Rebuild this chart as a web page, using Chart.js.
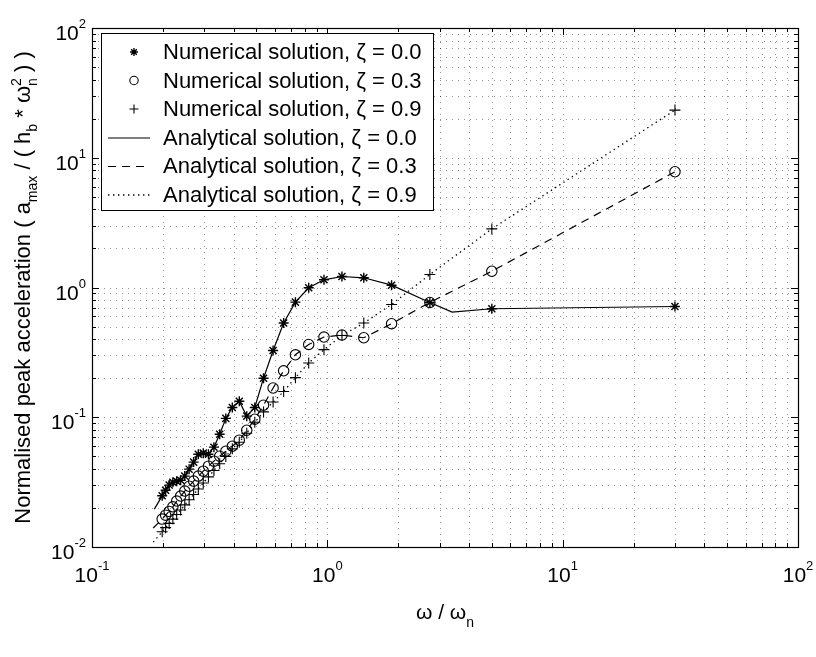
<!DOCTYPE html>
<html><head><meta charset="utf-8">
<script src="https://cdn.jsdelivr.net/npm/chart.js@4/dist/chart.umd.min.js"></script>
<style>html,body{margin:0;padding:0;background:#fff;}#wrap{width:816px;height:657px;position:relative;}</style>
</head><body><div id="wrap"><canvas id="c" width="816" height="657"></canvas></div>
<script>
// ---- data ----
const omega = [0.1987, 0.2055, 0.2128, 0.2206, 0.2290, 0.2381, 0.2479, 0.2586, 0.2703, 0.2830, 0.2970, 0.3125, 0.3297, 0.3488, 0.3704, 0.3947, 0.4225, 0.4545, 0.4918, 0.5357, 0.5882, 0.6522, 0.7317, 0.8333, 0.9677, 1.1538, 1.4286, 1.875, 2.727, 5, 30];
const numZeta00 = [0.0248, 0.0274, 0.0300, 0.0316, 0.0321, 0.0327, 0.0352, 0.0398, 0.0451, 0.0519, 0.0529, 0.0519, 0.0588, 0.074, 0.098, 0.119, 0.133, 0.102, 0.119, 0.200, 0.327, 0.532, 0.771, 0.995, 1.146, 1.216, 1.188, 1.042, 0.767, 0.686, 0.714];
const numZeta03 = [0.0164, 0.0176, 0.0188, 0.0204, 0.0226, 0.0247, 0.0270, 0.0294, 0.0322, 0.0352, 0.0384, 0.0420, 0.0459, 0.0501, 0.0547, 0.0598, 0.0666, 0.0794, 0.0966, 0.124, 0.168, 0.228, 0.303, 0.364, 0.415, 0.430, 0.410, 0.526, 0.767, 1.334, 7.8];
const numZeta09 = [0.0131, 0.0141, 0.0152, 0.0164, 0.0178, 0.0193, 0.0211, 0.0231, 0.0254, 0.0280, 0.0311, 0.0347, 0.0389, 0.0438, 0.0499, 0.0571, 0.0642, 0.0753, 0.0915, 0.110, 0.131, 0.158, 0.202, 0.262, 0.332, 0.427, 0.532, 0.740, 1.259, 2.83, 23.3];

const anaOmega00 = [0.184, 0.1987, 0.2055, 0.2128, 0.2206, 0.2290, 0.2381, 0.2479, 0.2586, 0.2703, 0.2830, 0.2970, 0.3125, 0.3297, 0.3488, 0.3704, 0.3947, 0.4225, 0.4545, 0.4918, 0.5357, 0.5882, 0.6522, 0.7317, 0.8333, 0.9677, 1.1538, 1.4286, 1.875, 2.727, 3.39, 5, 30];
const anaZeta00 = [0.0196, 0.0248, 0.0274, 0.0300, 0.0316, 0.0321, 0.0327, 0.0352, 0.0398, 0.0451, 0.0519, 0.0529, 0.0519, 0.0588, 0.074, 0.098, 0.119, 0.133, 0.102, 0.119, 0.200, 0.327, 0.532, 0.771, 0.995, 1.146, 1.216, 1.188, 1.042, 0.767, 0.646, 0.686, 0.714];
const anaOmega = [0.182, 0.1987, 0.2055, 0.2128, 0.2206, 0.2290, 0.2381, 0.2479, 0.2586, 0.2703, 0.2830, 0.2970, 0.3125, 0.3297, 0.3488, 0.3704, 0.3947, 0.4225, 0.4545, 0.4918, 0.5357, 0.5882, 0.6522, 0.7317, 0.8333, 0.9677, 1.1538, 1.4286, 1.875, 2.727, 5, 30];
const anaZeta03 = [0.0140, 0.0164, 0.0176, 0.0188, 0.0204, 0.0226, 0.0247, 0.0270, 0.0294, 0.0322, 0.0352, 0.0384, 0.0420, 0.0459, 0.0501, 0.0547, 0.0598, 0.0666, 0.0794, 0.0966, 0.124, 0.168, 0.228, 0.303, 0.364, 0.415, 0.430, 0.410, 0.526, 0.767, 1.334, 7.8];
const anaZeta09 = [0.0109, 0.0131, 0.0141, 0.0152, 0.0164, 0.0178, 0.0193, 0.0211, 0.0231, 0.0254, 0.0280, 0.0311, 0.0347, 0.0389, 0.0438, 0.0499, 0.0571, 0.0642, 0.0753, 0.0915, 0.110, 0.131, 0.158, 0.202, 0.262, 0.332, 0.427, 0.532, 0.740, 1.259, 2.83, 23.3];

const seriesNames = ['Numerical solution, \u03B6 = 0.0', 'Numerical solution, \u03B6 = 0.3', 'Numerical solution, \u03B6 = 0.9',
                     'Analytical solution, \u03B6 = 0.0', 'Analytical solution, \u03B6 = 0.3', 'Analytical solution, \u03B6 = 0.9'];
const xDecades = [-1, 0, 1, 2];
const yDecades = [-2, -1, 0, 1, 2];
const minorMultipliers = [2, 3, 4, 5, 6, 7, 8, 9];

// ---- helpers ----
const FONT = '"Liberation Sans", Arial, Helvetica, sans-serif';
const pts = (xs, ys) => xs.map((x, i) => ({x: x, y: ys[i]}));
function logTicks(decs) {
  const t = [];
  decs.forEach((d, i) => {
    t.push({value: Math.pow(10, d), major: true, exp: d});
    if (i < decs.length - 1) minorMultipliers.forEach(m => t.push({value: m * Math.pow(10, d), major: false}));
  });
  return t;
}

const datasets = [
  {label: seriesNames[0], data: pts(omega, numZeta00), showLine: false, pointStyle: 'star', pointRadius: 5, pointBorderWidth: 1.4, borderColor: '#000', backgroundColor: '#000', order: 1},
  {label: seriesNames[1], data: pts(omega, numZeta03), showLine: false, pointStyle: 'circle', pointRadius: 5.2, pointBorderWidth: 1.1, borderColor: '#000', backgroundColor: 'rgba(0,0,0,0)', order: 1},
  {label: seriesNames[2], data: pts(omega, numZeta09), showLine: false, pointStyle: 'cross', pointRadius: 5.5, pointBorderWidth: 1.1, borderColor: '#000', backgroundColor: '#000', order: 1},
  {label: seriesNames[3], data: pts(anaOmega00, anaZeta00), showLine: true, pointRadius: 0, borderWidth: 1.2, borderColor: '#000', fill: false, order: 2},
  {label: seriesNames[4], data: pts(anaOmega, anaZeta03), showLine: true, pointRadius: 0, borderWidth: 1.2, borderDash: [8, 6], borderColor: '#000', fill: false, order: 2},
  {label: seriesNames[5], data: pts(anaOmega, anaZeta09), showLine: true, pointRadius: 0, borderWidth: 1.3, borderDash: [1.4, 3.6], borderColor: '#000', fill: false, order: 2}
];

function powParts(ctx, exp, bs, es) {
  ctx.font = bs + 'px ' + FONT;
  const wb = ctx.measureText('10').width;
  ctx.font = es + 'px ' + FONT;
  const expStr = exp < 0 ? '-' + Math.abs(exp) : String(exp);
  const we = ctx.measureText(expStr).width;
  return {wb: wb, we: we, expStr: expStr};
}

const customPlugin = {
  id: 'matlabStyle',
  beforeDatasetsDraw(chart) {
    const ctx = chart.ctx, a = chart.chartArea, xs = chart.scales.x, ys = chart.scales.y;
    ctx.save();
    ctx.strokeStyle = 'rgba(0,0,0,0.42)';
    ctx.lineWidth = 1;
    ctx.setLineDash([1, 5]);
    logTicks(xDecades).forEach(t => {
      const px = Math.round(xs.getPixelForValue(t.value)) + 0.5;
      if (px <= a.left + 1 || px >= a.right - 1) return;
      ctx.beginPath(); ctx.moveTo(px, a.bottom); ctx.lineTo(px, a.top); ctx.stroke();
    });
    logTicks(yDecades).forEach(t => {
      const py = Math.round(ys.getPixelForValue(t.value)) + 0.5;
      if (py <= a.top + 1 || py >= a.bottom - 1) return;
      ctx.beginPath(); ctx.moveTo(a.left, py); ctx.lineTo(a.right, py); ctx.stroke();
    });
    ctx.restore();
  },
  afterDraw(chart) {
    const ctx = chart.ctx, a = chart.chartArea, xs = chart.scales.x, ys = chart.scales.y;
    ctx.save();
    ctx.setLineDash([]);
    ctx.strokeStyle = '#000'; ctx.fillStyle = '#000'; ctx.lineWidth = 1;
    // ticks (inward, all four sides)
    logTicks(xDecades).forEach(t => {
      const px = Math.round(xs.getPixelForValue(t.value)) + 0.5;
      const len = t.major ? 7 : 4;
      ctx.beginPath();
      ctx.moveTo(px, a.bottom); ctx.lineTo(px, a.bottom - len);
      ctx.moveTo(px, a.top); ctx.lineTo(px, a.top + len);
      ctx.stroke();
    });
    logTicks(yDecades).forEach(t => {
      const py = Math.round(ys.getPixelForValue(t.value)) + 0.5;
      const len = t.major ? 7 : 4;
      ctx.beginPath();
      ctx.moveTo(a.left, py); ctx.lineTo(a.left + len, py);
      ctx.moveTo(a.right, py); ctx.lineTo(a.right - len, py);
      ctx.stroke();
    });
    // axis box
    ctx.lineWidth = 1.2;
    ctx.strokeRect(Math.round(a.left) + 0.5, Math.round(a.top) + 0.5, Math.round(a.right - a.left), Math.round(a.bottom - a.top));
    // tick labels
    const BS = 21, ES = 13;
    ctx.textBaseline = 'alphabetic';
    ctx.textAlign = 'left';
    xDecades.forEach(d => {
      const px = xs.getPixelForValue(Math.pow(10, d));
      const m = powParts(ctx, d, BS, ES);
      const x0 = px - (m.wb + m.we) / 2;
      ctx.font = BS + 'px ' + FONT; ctx.fillText('10', x0, a.bottom + 35);
      ctx.font = ES + 'px ' + FONT; ctx.fillText(m.expStr, x0 + m.wb, a.bottom + 23);
    });
    yDecades.forEach(d => {
      const py = ys.getPixelForValue(Math.pow(10, d));
      const m = powParts(ctx, d, BS, ES);
      const x0 = a.left - 6 - m.wb - m.we;
      ctx.font = BS + 'px ' + FONT; ctx.fillText('10', x0, py + 12);
      ctx.font = ES + 'px ' + FONT; ctx.fillText(m.expStr, x0 + m.wb, py);
    });
    // x title: ω / ω_n
    {
      const TS = 21, SS = 14;
      ctx.font = TS + 'px ' + FONT;
      const main = '\u03C9 / \u03C9';
      const w1 = ctx.measureText(main).width;
      ctx.font = SS + 'px ' + FONT;
      const w2 = ctx.measureText('n').width;
      const cx = (a.left + a.right) / 2;
      const x0 = cx - (w1 + w2) / 2;
      ctx.font = TS + 'px ' + FONT; ctx.fillText(main, x0, a.bottom + 72);
      ctx.font = SS + 'px ' + FONT; ctx.fillText('n', x0 + w1, a.bottom + 80);
    }
    // y title (rotated)
    {
      const TS = 22, SS = 14;
      const segs = [
        {t: 'Normalised peak acceleration ( a', s: TS, dy: 0},
        {t: 'max', s: SS, dy: 7},
        {t: ' / ( h', s: TS, dy: 0},
        {t: 'b', s: SS, dy: 7},
        {t: ' * \u03C9', s: TS, dy: 0},
        {t: 'n', s: SS, dy: 7, sup: '2'},
        {t: ' ) )', s: TS, dy: 0}
      ];
      let total = 0;
      segs.forEach(sg => { ctx.font = sg.s + 'px ' + FONT; sg.w = ctx.measureText(sg.t).width; total += sg.w; });
      const cy = (a.top + a.bottom) / 2;
      ctx.translate(30, cy);
      ctx.rotate(-Math.PI / 2);
      let x = -total / 2;
      segs.forEach(sg => {
        ctx.font = sg.s + 'px ' + FONT;
        ctx.fillText(sg.t, x, sg.dy);
        if (sg.sup) ctx.fillText(sg.sup, x, -9);
        x += sg.w;
      });
      ctx.setTransform(1, 0, 0, 1, 0, 0);
    }
    // legend
    {
      const bx = 101, by = 33, bw = 332, bh = 177;
      ctx.fillStyle = '#fff';
      ctx.fillRect(bx, by, bw, bh);
      ctx.strokeStyle = '#000'; ctx.lineWidth = 1;
      ctx.strokeRect(bx + 0.5, by + 0.5, bw, bh);
      const rowY = [52, 80.5, 109, 137.5, 166, 194.5];
      const LS = 22;
      chart.data.datasets.forEach((ds, i) => {
        const y = rowY[i];
        ctx.strokeStyle = '#000'; ctx.fillStyle = '#000';
        if (ds.showLine === false) {
          ctx.lineWidth = ds.pointBorderWidth;
          ctx.fillStyle = ds.backgroundColor;
          Chart.helpers.drawPoint(ctx, {pointStyle: ds.pointStyle, radius: ds.pointRadius - 1, borderWidth: ds.pointBorderWidth, rotation: 0}, 134, y);
        } else {
          ctx.lineWidth = ds.borderWidth;
          ctx.setLineDash(ds.borderDash || []);
          ctx.beginPath(); ctx.moveTo(108, y + 0.5); ctx.lineTo(150, y + 0.5); ctx.stroke();
          ctx.setLineDash([]);
        }
        ctx.fillStyle = '#000';
        ctx.font = LS + 'px ' + FONT;
        ctx.textAlign = 'left';
        ctx.textBaseline = 'middle';
        ctx.fillText(ds.label, 163, y + 1);
      });
    }
    ctx.restore();
  }
};

new Chart(document.getElementById('c'), {
  type: 'scatter',
  data: {datasets: datasets},
  options: {
    responsive: false,
    animation: false,
    devicePixelRatio: 1,
    layout: {padding: {top: 28, right: 18, left: 0, bottom: 0}},
    plugins: {legend: {display: false}, tooltip: {enabled: false}},
    scales: {
      x: {type: 'logarithmic', min: 0.1, max: 100, ticks: {display: false}, grid: {display: false}, border: {display: false},
          afterFit(s) { s.height = 110; }},
      y: {type: 'logarithmic', min: 0.01, max: 100, ticks: {display: false}, grid: {display: false}, border: {display: false},
          afterFit(s) { s.width = 92; }}
    }
  },
  plugins: [customPlugin]
});
</script></body></html>
